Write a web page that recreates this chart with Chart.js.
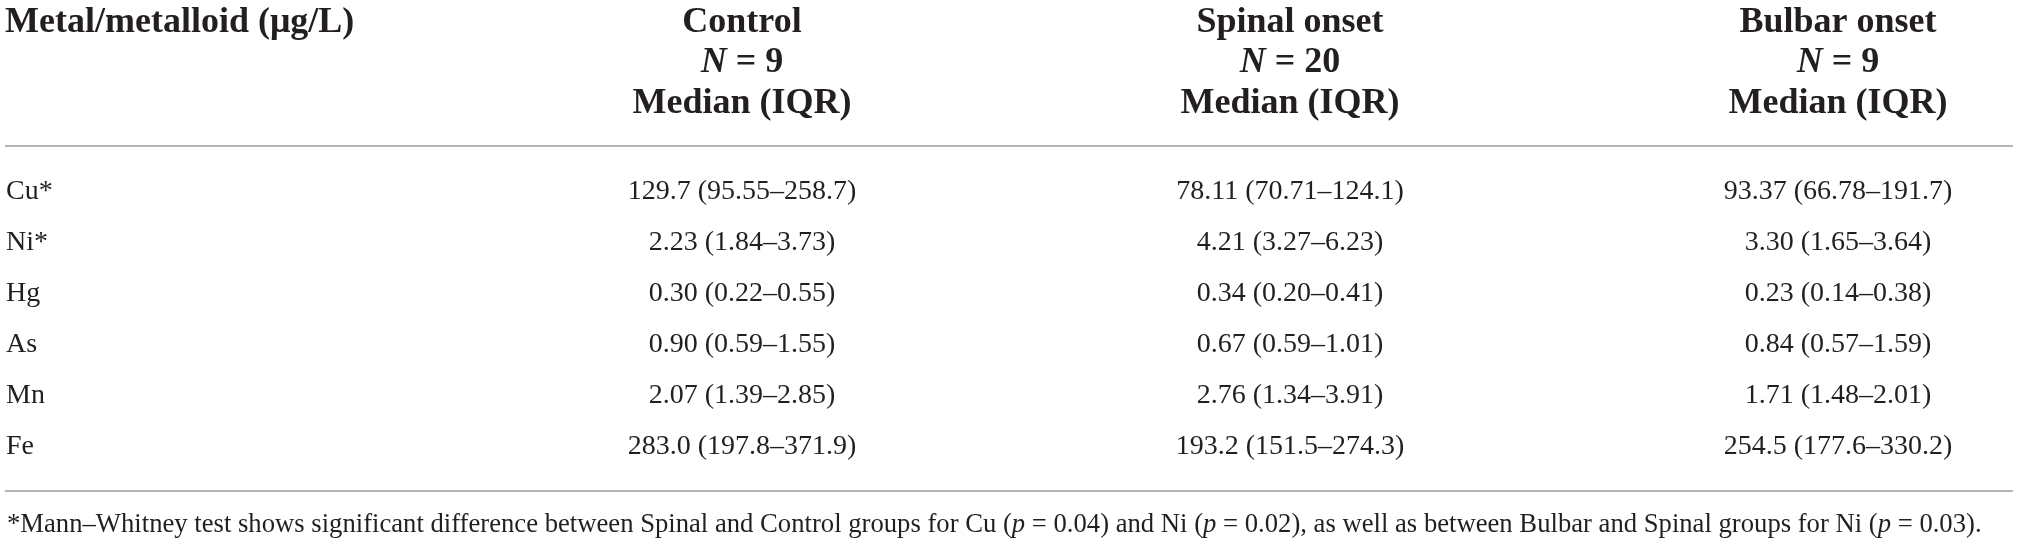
<!DOCTYPE html>
<html><head><meta charset="utf-8">
<script src="https://cdn.jsdelivr.net/npm/chart.js@4.4.1/dist/chart.umd.min.js"></script>
<style>html,body{margin:0;padding:0;background:#fff}#wrap{width:2019px;height:544px;position:relative}</style>
</head><body><div id="wrap"><canvas id="c"></canvas></div>
<script>
const rowLabels = ['Cu*', 'Ni*', 'Hg', 'As', 'Mn', 'Fe'];
const groups = ['Control', 'Spinal onset', 'Bulbar onset'];
const groupN = ['9', '20', '9'];
const controlMedian = ['129.7', '2.23', '0.30', '0.90', '2.07', '283.0'];
const controlQ1 = ['95.55', '1.84', '0.22', '0.59', '1.39', '197.8'];
const controlQ3 = ['258.7', '3.73', '0.55', '1.55', '2.85', '371.9'];
const spinalMedian = ['78.11', '4.21', '0.34', '0.67', '2.76', '193.2'];
const spinalQ1 = ['70.71', '3.27', '0.20', '0.59', '1.34', '151.5'];
const spinalQ3 = ['124.1', '6.23', '0.41', '1.01', '3.91', '274.3'];
const bulbarMedian = ['93.37', '3.30', '0.23', '0.84', '1.71', '254.5'];
const bulbarQ1 = ['66.78', '1.65', '0.14', '0.57', '1.48', '177.6'];
const bulbarQ3 = ['191.7', '3.64', '0.38', '1.59', '2.01', '330.2'];
const cornerLabel = 'Metal/metalloid (μg/L)';
const statLabel = 'Median (IQR)';
const footnoteParts = [
  ['*Mann–Whitney test shows significant difference between Spinal and Control groups for Cu (', false],
  ['p', true], [' = 0.04) and Ni (', false], ['p', true],
  [' = 0.02), as well as between Bulbar and Spinal groups for Ni (', false], ['p', true], [' = 0.03).', false]
];

const FAM = '"Liberation Serif", "Times New Roman", serif';
const INK = '#231f20';
const medians = [controlMedian, spinalMedian, bulbarMedian];
const q1s = [controlQ1, spinalQ1, bulbarQ1];
const q3s = [controlQ3, spinalQ3, bulbarQ3];

const datasets = groups.map((g, gi) => ({
  label: g,
  data: rowLabels.map(r => ({ x: g, y: r })),
  cellText: rowLabels.map((r, ri) => medians[gi][ri] + ' (' + q1s[gi][ri] + '–' + q3s[gi][ri] + ')'),
  pointRadius: 0, showLine: false
}));

function drawRuns(ctx, runs, x, y, align) {
  let total = 0;
  runs.forEach(r => { ctx.font = r.font; r.w = ctx.measureText(r.t).width; total += r.w; });
  let cx = align === 'center' ? x - total / 2 : x;
  ctx.textAlign = 'left';
  runs.forEach(r => { ctx.font = r.font; ctx.fillText(r.t, cx, y); cx += r.w; });
}

const tablePlugin = {
  id: 'tablePlugin',
  afterDraw(chart) {
    const ctx = chart.ctx, a = chart.chartArea, xs = chart.scales.x;
    const W = chart.width;
    ctx.save();
    ctx.strokeStyle = '#9d9d9d';
    ctx.lineWidth = 1.6;
    const ruleTop = a.top - 46, ruleBot = a.bottom + 44;
    [ruleTop, ruleBot].forEach(y => {
      ctx.beginPath(); ctx.moveTo(5, y); ctx.lineTo(W - 6, y); ctx.stroke();
    });
    ctx.fillStyle = INK;
    ctx.textBaseline = 'alphabetic';
    const bold = 'bold 36px ' + FAM, boldIt = 'italic bold 36px ' + FAM;
    const b1 = a.top - 160, b2 = a.top - 120, b3 = a.top - 79;
    ctx.font = bold; ctx.textAlign = 'left';
    ctx.fillText(cornerLabel, 5, b1);
    groups.forEach((g, i) => {
      const cx = xs.getPixelForValue(i);
      ctx.font = bold; ctx.textAlign = 'center';
      ctx.fillText(g, cx, b1);
      drawRuns(ctx, [{ t: 'N', font: boldIt }, { t: ' = ' + groupN[i], font: bold }], cx, b2, 'center');
      ctx.font = bold; ctx.textAlign = 'center';
      ctx.fillText(statLabel, cx, b3);
    });
    // cells
    ctx.font = '28px ' + FAM;
    ctx.textAlign = 'center';
    ctx.textBaseline = 'middle';
    chart.data.datasets.forEach((ds, di) => {
      const meta = chart.getDatasetMeta(di);
      meta.data.forEach((el, j) => { ctx.fillText(ds.cellText[j], el.x, el.y); });
    });
    // footnote
    ctx.textBaseline = 'alphabetic';
    let size = 26;
    const runsAt = s => footnoteParts.map(p => ({ t: p[0], font: (p[1] ? 'italic ' : '') + s + 'px ' + FAM }));
    let tot = 0;
    runsAt(size).forEach(r => { ctx.font = r.font; tot += ctx.measureText(r.t).width; });
    size = size * 1975 / tot;
    drawRuns(ctx, runsAt(size), 7, a.bottom + 85, 'left');
    ctx.restore();
  }
};

new Chart(document.getElementById('c'), {
  type: 'scatter',
  data: { datasets },
  options: {
    responsive: true, maintainAspectRatio: false, animation: false, events: [],
    layout: { padding: { left: 6, right: 181, top: 192, bottom: 97 } },
    plugins: { legend: { display: false }, tooltip: { enabled: false } },
    scales: {
      x: { type: 'category', labels: groups, offset: false, display: false },
      y: {
        type: 'category', labels: rowLabels, offset: false, position: 'left',
        grid: { display: false }, border: { display: false },
        ticks: { font: { family: FAM, size: 28 }, color: INK, crossAlign: 'far', padding: 0, autoSkip: false },
        afterFit: s => { s.width = 736; }
      }
    }
  },
  plugins: [tablePlugin]
});
</script></body></html>
